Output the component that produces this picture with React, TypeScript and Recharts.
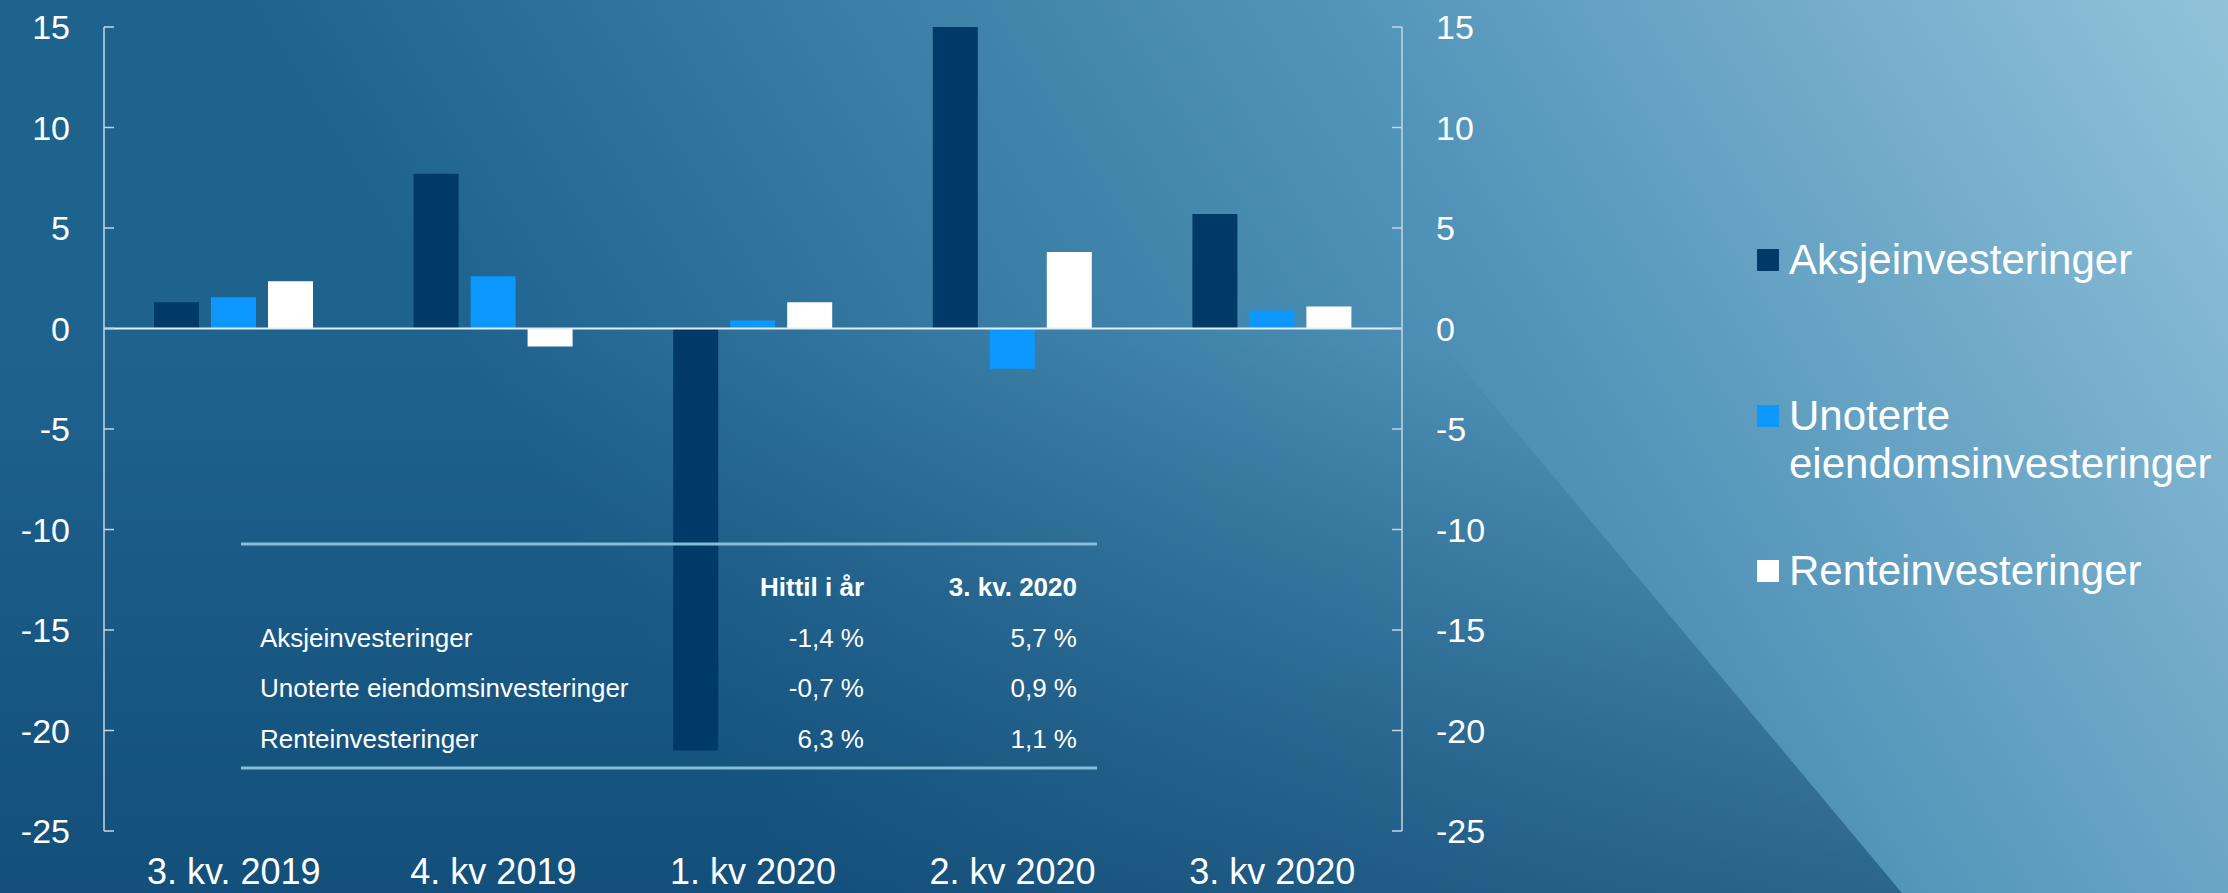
import { BarChart, Bar, XAxis, YAxis, ReferenceLine } from "recharts"

const quarters = ["3. kv. 2019", "4. kv 2019", "1. kv 2020", "2. kv 2020", "3. kv 2020"]
const aksje = [1.3, 7.7, -21.0, 15.0, 5.7]
const unoterte = [1.55, 2.6, 0.4, -2.0, 0.9]
const rente = [2.35, -0.9, 1.3, 3.8, 1.1]
const yTicks = [15, 10, 5, 0, -5, -10, -15, -20, -25]

const seriesKeys = ["aksje", "unoterte", "rente"]
const seriesNames = ["Aksjeinvesteringer", "Unoterte eiendomsinvesteringer", "Renteinvesteringer"]
const seriesColors = ["#003a68", "#0c98ff", "#ffffff"]

const tableHeader = ["Hittil i år", "3. kv. 2020"]
const tableRows = ["Aksjeinvesteringer", "Unoterte eiendomsinvesteringer", "Renteinvesteringer"]
const hittilIAr = ["-1,4 %", "-0,7 %", "6,3 %"]
const kv3 = ["5,7 %", "0,9 %", "1,1 %"]

const FONT = '"Liberation Sans", Arial, sans-serif'
const W = 2228
const H = 893

const data = quarters.map((q, i) => ({
  quarter: q,
  aksje: aksje[i],
  unoterte: unoterte[i],
  rente: rente[i],
}))

function Background() {
  return (
    <svg width={W} height={H} style={{ position: "absolute", left: 0, top: 0 }}>
      <defs>
        <linearGradient id="bgR" gradientUnits="userSpaceOnUse" x1={800} y1={893} x2={2228} y2={0}>
          <stop offset="0" stopColor="#1e638e" />
          <stop offset="0.55" stopColor="#5294b9" />
          <stop offset="1" stopColor="#92c2da" />
        </linearGradient>
        <linearGradient id="bgL" gradientUnits="userSpaceOnUse" x1={0} y1={340} x2={0} y2={893}>
          <stop offset="0" stopColor="#0a3f6a" stopOpacity={0} />
          <stop offset="1" stopColor="#0a3f6a" stopOpacity={0.55} />
        </linearGradient>
      </defs>
      <rect x={0} y={0} width={W} height={H} fill="url(#bgR)" />
      <polygon points="0,0 1160,0 1456,360 1902,893 0,893" fill="url(#bgL)" />
    </svg>
  )
}

function SideLegend() {
  const tops = [236, 392, 547]
  return (
    <div style={{ position: "absolute", left: 0, top: 0, width: W, height: H, pointerEvents: "none" }}>
      {seriesNames.map((name, i) => (
        <div key={name} style={{ position: "absolute", left: 1757, top: tops[i], width: 471, fontFamily: FONT, fontSize: 42, lineHeight: "48px", color: "#fff" }}>
          <span style={{ position: "absolute", left: 0, top: 13, width: 22, height: 22, background: seriesColors[i] }} />
          <div style={{ marginLeft: 32 }}>{name}</div>
        </div>
      ))}
    </div>
  )
}

function SummaryTable() {
  const rowY = [647, 697, 748]
  return (
    <svg width={W} height={H} style={{ position: "absolute", left: 0, top: 0, pointerEvents: "none" }}>
      <line x1={241} x2={1097} y1={544} y2={544} stroke="#86bddc" strokeWidth={3} />
      <line x1={241} x2={1097} y1={768} y2={768} stroke="#86bddc" strokeWidth={3} />
      <g fontFamily={FONT} fontSize={26} fill="#fff">
        <text x={864} y={596} textAnchor="end" fontWeight="bold">{tableHeader[0]}</text>
        <text x={1077} y={596} textAnchor="end" fontWeight="bold">{tableHeader[1]}</text>
        {tableRows.map((r, i) => (
          <g key={r}>
            <text x={260} y={rowY[i]}>{r}</text>
            <text x={864} y={rowY[i]} textAnchor="end">{hittilIAr[i]}</text>
            <text x={1077} y={rowY[i]} textAnchor="end">{kv3[i]}</text>
          </g>
        ))}
      </g>
    </svg>
  )
}

export default function App() {
  const axisColor = "#c2d6e4"
  const yTick = { fill: "#fff", fontSize: 34, fontFamily: FONT }
  return (
    <div style={{ position: "absolute", left: 0, top: 0, width: W, height: H, overflow: "hidden" }}>
      <Background />
      <div style={{ position: "absolute", left: 0, top: 0 }}>
        <BarChart
          width={W}
          height={H}
          data={data}
          margin={{ top: 27, right: 726, bottom: 0, left: 0 }}
          barSize={45}
          barGap={12}
        >
          <XAxis
            dataKey="quarter"
            axisLine={false}
            tickLine={false}
            tickSize={0}
            tickMargin={27}
            height={62}
            interval={0}
            tick={{ fill: "#fff", fontSize: 36, fontFamily: FONT }}
          />
          <YAxis
            yAxisId="left"
            orientation="left"
            width={104}
            domain={[-25, 15]}
            ticks={yTicks}
            interval={0}
            tickSize={-10}
            tickMargin={44}
            axisLine={{ stroke: axisColor, strokeWidth: 1.5 }}
            tickLine={{ stroke: axisColor, strokeWidth: 1.5 }}
            tick={yTick}
          />
          <YAxis
            yAxisId="right"
            orientation="right"
            width={100}
            type="number"
            domain={[-25, 15]}
            allowDataOverflow
            ticks={yTicks}
            interval={0}
            tickSize={-10}
            tickMargin={44}
            axisLine={{ stroke: axisColor, strokeWidth: 1.5 }}
            tickLine={{ stroke: axisColor, strokeWidth: 1.5 }}
            tick={yTick}
          />
          {seriesKeys.map((k, i) => (
            <Bar
              key={k}
              yAxisId="left"
              dataKey={k}
              name={seriesNames[i]}
              fill={seriesColors[i]}
              isAnimationActive={false}
            />
          ))}
          <ReferenceLine yAxisId="left" y={0} stroke="#e4edf3" strokeWidth={2} />
        </BarChart>
      </div>
      <SummaryTable />
      <SideLegend />
    </div>
  )
}
